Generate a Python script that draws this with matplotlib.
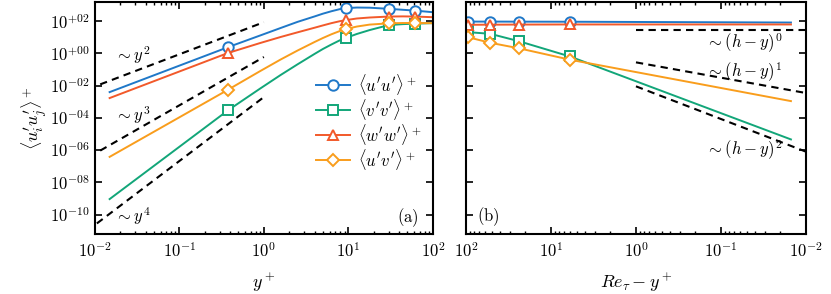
import numpy as np
import matplotlib
matplotlib.use("Agg")
import matplotlib.pyplot as plt
from matplotlib.ticker import FuncFormatter, FixedLocator, LogLocator, NullLocator

plt.rcParams['mathtext.fontset'] = 'cm'
plt.rcParams['font.family'] = ['DejaVu Serif']
plt.rcParams['font.size'] = 11

# near-wall region (panel a)
yplus = [0.015, 0.377, 0.9, 1.58, 2.5, 4.0, 5.0, 6.3, 7.9, 9.3, 12.6, 17.8, 30, 44, 61, 100]
uu_wall = [3.98e-3, 2.45, 12.9, 38, 91, 200, 295, 417, 562, 646, 708, 692, 589, 513, 457, 363]
vv_wall = [9.1e-10, 2.95e-4, 6.5e-3, 4.6e-2, 0.21, 0.95, 1.9, 3.6, 6.5, 9.1, 16.2, 28.2, 57.5, 66, 70.8, 75.9]
ww_wall = [1.7e-3, 1.07, 4.4, 10.5, 20.4, 39.8, 55, 76, 100, 117, 148, 170, 195, 200, 195, 178]
uv_wall = [3.8e-7, 5.6e-3, 7.9e-2, 0.42, 1.51, 5.2, 9.1, 15.5, 24.5, 32.4, 46.8, 61.7, 74, 77.6, 77.6, 75.9]
wall_marks = [1, 9, 12, 14]

# guide lines panel a
guide_x = [0.0116, 1.0]
guide_y2 = [1.2e-2, 87]
guide_y3 = [9.3e-7, 0.6]
guide_x4 = [0.0106, 1.0]
guide_y4 = [2.8e-11, 1.95e-3]

# near-surface region (panel b)
dist = [95, 52, 24, 6.0, 0.015]
uu_top = [95, 95, 94, 93, 83]
vv_top = [21, 16.6, 5.8, 0.65, 4.6e-6]
ww_top = [60, 61, 62, 63, 63]
uv_top = [10.2, 4.6, 2.1, 0.41, 1.1e-3]
top_marks = [0, 1, 2, 3]

# guide lines panel b
hguide_x = [1.0, 0.01]
hguide_0 = [29.5, 29.5]
hguide_1 = [0.28, 0.0035]
hguide_2 = [9.1e-3, 8e-7]

names = [r"$\langle u'u'\rangle^+$", r"$\langle v'v'\rangle^+$",
         r"$\langle w'w'\rangle^+$", r"$\langle u'v'\rangle^+$"]
colors = ['#1f78c8', '#12a679', '#f2592a', '#f99d1c']
markers = ['o', 's', '^', 'D']
msizes = [7.5, 7.5, 7, 6]

fig = plt.figure(figsize=(8.31, 2.94), dpi=100)
ax1 = fig.add_axes([0.114, 0.204, 0.407, 0.789])
ax2 = fig.add_axes([0.5608, 0.204, 0.409, 0.789])

dash = (0, (3.5, 2.5))

for vals_w, vals_t, name, c, m, ms in zip(
        [uu_wall, vv_wall, ww_wall, uv_wall],
        [uu_top, vv_top, ww_top, uv_top],
        names, colors, markers, msizes):
    ax1.plot(yplus, vals_w, color=c, lw=1.4, marker=m, ms=ms, mfc='white',
             mec=c, mew=1.4, markevery=wall_marks, label=name)
    ax2.plot(dist, vals_t, color=c, lw=1.4, marker=m, ms=ms, mfc='white',
             mec=c, mew=1.4, markevery=top_marks)

ax1.plot(guide_x, guide_y2, 'k', ls=dash, lw=1.5)
ax1.plot(guide_x, guide_y3, 'k', ls=dash, lw=1.5)
ax1.plot(guide_x4, guide_y4, 'k', ls=dash, lw=1.5)
ax1.text(0.0284, 0.76, r"$\sim y^2$", ha='center', va='center', fontsize=12)
ax1.text(0.0284, 1.4e-4, r"$\sim y^3$", ha='center', va='center', fontsize=12)
ax1.text(0.0284, 8e-11, r"$\sim y^4$", ha='center', va='center', fontsize=12)

ax2.plot(hguide_x, hguide_0, 'k', ls=dash, lw=1.5)
ax2.plot(hguide_x, hguide_1, 'k', ls=dash, lw=1.5)
ax2.plot(hguide_x, hguide_2, 'k', ls=dash, lw=1.5)
ax2.text(0.019, 4.2, r"$\sim (h-y)^0$", ha='right', va='center', fontsize=12)
ax2.text(0.019, 0.066, r"$\sim (h-y)^1$", ha='right', va='center', fontsize=12)
ax2.text(0.019, 1.0e-6, r"$\sim (h-y)^2$", ha='right', va='center', fontsize=12)

ax1.text(0.926, 0.069, r"$\mathrm{(a)}$", transform=ax1.transAxes,
         ha='center', va='center', fontsize=12)
ax2.text(0.065, 0.073, r"$\mathrm{(b)}$", transform=ax2.transAxes,
         ha='center', va='center', fontsize=12)

ax1.legend(loc='upper left', bbox_to_anchor=(0.655, 0.70), frameon=False,
           handlelength=2.0, handletextpad=0.5, labelspacing=0.0,
           borderpad=0, borderaxespad=0, fontsize=12)


def xfmt(v, pos):
    return r"$10^{%d}$" % int(round(np.log10(v)))


def yfmt(v, pos):
    e = int(round(np.log10(v)))
    return r"$10^{%s%02d}$" % ('+' if e >= 0 else '-', abs(e))


for ax in (ax1, ax2):
    ax.set_xscale('log')
    ax.set_yscale('log')
    ax.set_ylim(10 ** -11.21, 10 ** 3.19)
    ax.yaxis.set_major_locator(FixedLocator([1e-10, 1e-8, 1e-6, 1e-4, 1e-2, 1, 1e2]))
    ax.yaxis.set_minor_locator(NullLocator())
    ax.xaxis.set_major_locator(LogLocator(base=10))
    ax.xaxis.set_minor_locator(LogLocator(base=10, subs=np.arange(2, 10)))
    ax.xaxis.set_major_formatter(FuncFormatter(xfmt))
    ax.tick_params(which='both', direction='in', top=True, right=True,
                   labelsize=12)
    ax.tick_params(axis='x', pad=6)
    ax.tick_params(which='major', length=5, width=1.2)
    ax.tick_params(which='minor', length=2.5, width=1.0)
    for s in ax.spines.values():
        s.set_linewidth(1.5)

ax1.set_xlim(1e-2, 1e2)
ax2.set_xlim(1e2, 1e-2)
ax1.yaxis.set_major_formatter(FuncFormatter(yfmt))
ax2.yaxis.set_major_formatter(FuncFormatter(lambda v, p: ''))

ax1.set_xlabel(r"$y^+$", fontsize=13, labelpad=7)
ax2.set_xlabel(r"$Re_\tau - y^+$", fontsize=13, labelpad=7)
ax1.set_ylabel(r"$\langle u_i' u_j'\rangle^+$", fontsize=13, labelpad=1)

fig.savefig("out.png", dpi=100)
